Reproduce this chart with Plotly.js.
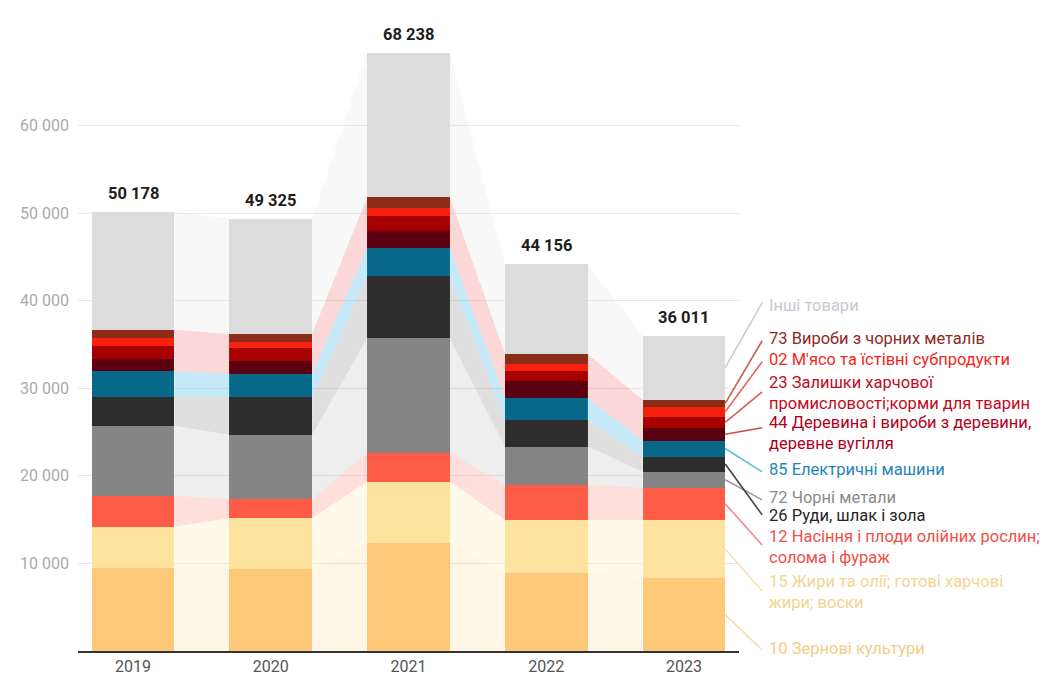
<!DOCTYPE html>
<html><head><meta charset="utf-8">
<script src="https://cdn.plot.ly/plotly-3.0.1.min.js"></script>
<style>html,body{margin:0;padding:0;background:#fff;} #chart{width:1043px;height:678px;}</style>
</head><body><div id="chart"></div>
<script>
// ---- data (million USD) ----
const years = ['2019', '2020', '2021', '2022', '2023'];
const totals = [50178, 49325, 68238, 44156, 36011];
const cat10 = [9450, 9370, 12309, 8880, 8309];
const cat15 = [4755, 5796, 7040, 6091, 6662];
const cat12 = [3531, 2205, 3280, 4035, 3658];
const cat72 = [7977, 7315, 13108, 4343, 1862];
const cat26 = [3349, 4308, 7040, 3051, 1715];
const cat85 = [2857, 2686, 3246, 2480, 1828];
const cat44 = [1417, 1463, 1897, 1897, 1417];
const cat23 = [1520, 1451, 1714, 1143, 1326];
const cat02 = [880, 720, 960, 880, 1074];
const cat73 = [949, 880, 1212, 1143, 835];
const catOther = [13493, 13131, 16432, 10213, 7325];
const seriesNames = [
  '10 Зернові культури',
  '15 Жири та олії; готові харчові<br>жири; воски',
  '12 Насіння і плоди олійних рослин;<br>солома і фураж',
  '72 Чорні метали',
  '26 Руди, шлак і зола',
  '85 Електричні машини',
  '44 Деревина і вироби з деревини,<br>деревне вугілля',
  '23 Залишки харчової<br>промисловості;корми для тварин',
  '02 М\'ясо та їстівні субпродукти',
  '73 Вироби з чорних металів',
  'Інші товари'
];

// ---- styles / positions ----
const series = [cat10, cat15, cat12, cat72, cat26, cat85, cat44, cat23, cat02, cat73, catOther];
const barColors = ['#fdc878', '#fde39e', '#ff5c48', '#858585', '#2d2d2d', '#07688a', '#5a0010', '#a80000', '#f7200e', '#8a2c17', '#dcdcdc'];
const ribbonColors = ['rgba(253,200,120,0.18)', 'rgba(253,227,158,0.22)', 'rgba(255,110,95,0.22)', 'rgba(150,150,150,0.16)',
  'rgba(120,120,120,0.24)', 'rgba(110,200,240,0.40)', 'rgba(240,110,110,0.28)', 'rgba(240,110,110,0.28)',
  'rgba(240,110,110,0.28)', 'rgba(240,110,110,0.28)', 'rgba(220,220,220,0.20)'];
const labelColors = ['#f5cc88', '#f2d58e', '#ef4f4a', '#8a8a8a', '#262626', '#1f86b8', '#b0001c', '#c20a22', '#f2281e', '#8e2a20', '#c8c8d2'];
const lineColors = ['#f7dcae', '#f5e2b0', '#f28a8a', '#9a9a9a', '#444444', '#5cc0e0', '#d04a4a', '#e05858', '#f06060', '#c46050', '#cccccc'];
const labelY = [343, 6686, 11886, 17486, 15429, 20686, 24914, 29514, 33257, 35657, 39429];
const labelLineY = [114, 6857, 12114, 17257, 15543, 20457, 25486, 29600, 33029, 35429, 39771];

const xs = years.map((_, i) => i);
const barW = 0.6;
const xRange = [-0.4, 4.4];

// cumulative bottoms / tops
const bottoms = [], tops = [];
let acc = years.map(() => 0);
series.forEach((s) => {
  bottoms.push(acc.slice());
  acc = acc.map((a, i) => a + s[i]);
  tops.push(acc.slice());
});

const traces = [];
// ribbons
series.forEach((s, k) => {
  for (let i = 0; i < years.length - 1; i++) {
    const xa = i + barW / 2, xb = i + 1 - barW / 2;
    traces.push({
      type: 'scatter', mode: 'none', fill: 'toself', fillcolor: ribbonColors[k],
      x: [xa, xb, xb, xa, xa],
      y: [bottoms[k][i], bottoms[k][i + 1], tops[k][i + 1], tops[k][i], bottoms[k][i]],
      hoverinfo: 'skip', showlegend: false
    });
  }
});
// bars
series.forEach((s, k) => {
  traces.push({
    type: 'bar', x: xs, y: s, width: barW, name: seriesNames[k],
    marker: {color: barColors[k], line: {width: 0}}, showlegend: false,
    hovertemplate: '%{y}<extra></extra>'
  });
});

const fmt = n => String(n).replace(/\B(?=(\d{3})+(?!\d))/g, ' ');
const annotations = [];
totals.forEach((t, i) => {
  annotations.push({
    x: i, y: t, xref: 'x', yref: 'y', text: '<b>' + fmt(t) + '</b>', showarrow: false,
    yanchor: 'bottom', yshift: 7, font: {family: 'Roboto, sans-serif', size: 16.5, color: '#1e1e1e'}
  });
});
const xToPaper = v => (v - xRange[0]) / (xRange[1] - xRange[0]);
const shapes = [];
series.forEach((s, k) => {
  const last = years.length - 1;
  annotations.push({
    x: 1.042, y: labelY[k], xref: 'paper', yref: 'y', text: seriesNames[k], showarrow: false,
    xanchor: 'left', yanchor: 'middle', align: 'left',
    font: {family: 'Roboto, sans-serif', size: 16.5, color: labelColors[k]}
  });
  shapes.push({
    type: 'line', xref: 'paper', yref: 'y',
    x0: xToPaper(last + barW / 2), y0: (bottoms[k][last] + tops[k][last]) / 2,
    x1: 1.035, y1: labelLineY[k],
    line: {color: lineColors[k], width: 1.6}, layer: 'above'
  });
});

const layout = {
  width: 1043, height: 678,
  margin: {l: 78, r: 304, t: 38, b: 27},
  paper_bgcolor: '#fff', plot_bgcolor: '#fff',
  barmode: 'stack', showlegend: false,
  separators: ', ',
  font: {family: 'Roboto, sans-serif'},
  xaxis: {
    range: xRange, tickvals: xs, ticktext: years, showgrid: false, zeroline: false,
    showline: true, linecolor: '#333', linewidth: 2, ticks: '',
    tickfont: {size: 16, color: '#555'}, fixedrange: true
  },
  yaxis: {
    range: [0, 70000], tickvals: [10000, 20000, 30000, 40000, 50000, 60000], tickformat: ',d',
    showgrid: true, gridcolor: '#e9e9e9', gridwidth: 1, zeroline: false, showline: false,
    ticks: '', ticklabelstandoff: 8, tickfont: {size: 16, color: '#a6aca8'}, fixedrange: true
  },
  annotations: annotations,
  shapes: shapes
};
Plotly.newPlot('chart', traces, layout, {displayModeBar: false, staticPlot: true});
</script>
</body></html>
